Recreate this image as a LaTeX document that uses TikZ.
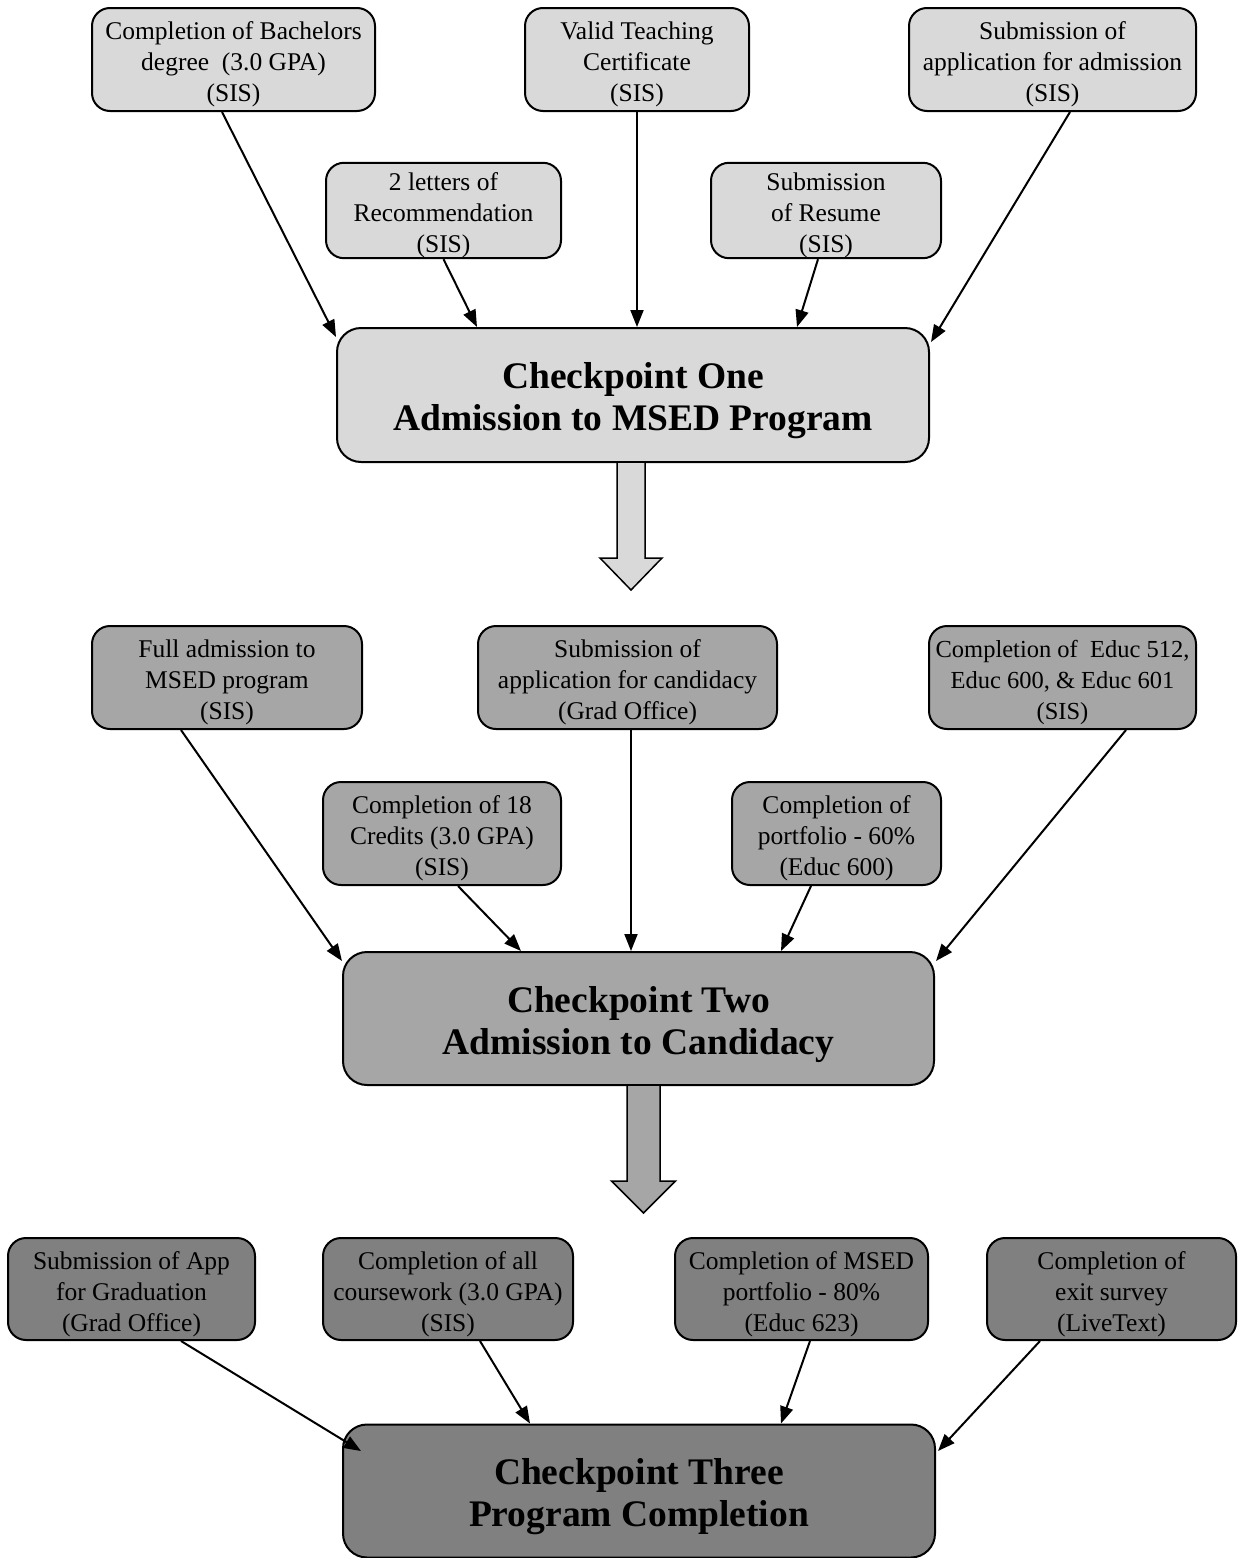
\documentclass[tikz,border=0pt]{standalone}
\usepackage{fontspec}
\setmainfont{Liberation Serif}
\usepackage{tikz}
\usetikzlibrary{positioning}
\usetikzlibrary{calc,arrows.meta}

\definecolor{ckOne}{HTML}{D9D9D9}
\definecolor{ckTwo}{HTML}{A6A6A6}
\definecolor{ckThree}{HTML}{808080}

\tikzset{
	req/.style={draw, line width=2pt, rounded corners=18pt, align=center,
		inner sep=0pt, minimum height=103pt,
		font=\fontsize{25.5}{31}\selectfont,
		execute at begin node={\rule{0pt}{90pt}}},
	checkpoint/.style={draw, line width=2pt, rounded corners=24pt, align=center,
		inner sep=0pt, minimum width=592pt, minimum height=134pt,
		font=\fontsize{37.5}{42}\selectfont\bfseries,
		execute at begin node={\rule{0pt}{80pt}}},
	feed/.style={line width=2pt, -{Triangle[length=17pt,width=13pt]}},
	bigarrow/.style={draw, line width=1.5pt},
}

\begin{document}
\begin{tikzpicture}[x=1pt,y=-1pt]
	
	\useasboundingbox (0,0) rectangle (1244,1558);
	
	% CHECKPOINT ONE: requirements (top row, then the two lower ones)
	\node[req, fill=ckOne, minimum width=283pt] (b1) at (233.5,59.5) {Completion of Bachelors\\degree~~(3.0 GPA)\\(SIS)};
	\node[req, fill=ckOne, minimum width=224pt] (valid) at (637,59.5) {Valid Teaching\\Certificate\\(SIS)};
	\node[req, fill=ckOne, minimum width=287pt] (admit) at (1052.5,59.5) {Submission of\\application for admission\\(SIS)};
	\node[req, fill=ckOne, minimum width=235pt, minimum height=95pt] (letters) at (443.5,210.5) {2 letters of\\Recommendation\\(SIS)};
	\node[req, fill=ckOne, minimum width=230pt, minimum height=95pt] (resume) at (826,210.5) {Submission\\of Resume\\(SIS)};
	
	\node[checkpoint, fill=ckOne] (c1) at (633,395) {Checkpoint One\\Admission to MSED Program};
	
	\draw[feed] ($(b1.south)+(-11.5,0)$) -- ($(c1.north west)+(0,10)$);
	\draw[feed] (letters.south) -- ($(c1.north)+(-156,0)$);
	\draw[feed] (valid.south) -- ($(c1.north)+(4,0)$);
	\draw[feed] ($(resume.south)+(-8,0)$) -- ($(c1.north)+(164,0)$);
	\draw[feed] ($(admit.south)+(17.5,0)$) -- ($(c1.north east)+(1,15)$);
	
	% block arrow down to checkpoint two
	\coordinate (A1) at ($(c1.south)+(-2,0)$);
	\draw[bigarrow, fill=ckOne] ($(A1)+(-14,0)$) -- ++(0,95) -- ++(-17,0)
		-- ($(A1)+(0,127)$) -- ($(A1)+(31,95)$) -- ++(-17,0) -- ($(A1)+(14,0)$);
	
	% CHECKPOINT TWO
	\node[req, fill=ckTwo, minimum width=270pt] (full) at (227,677.5) {Full admission to\\MSED program\\(SIS)};
	\node[req, fill=ckTwo, minimum width=299pt] (cand) at (627.5,677.5) {Submission of\\application for candidacy\\(Grad Office)};
	\node[req, fill=ckTwo, minimum width=267pt, font=\fontsize{24.5}{31}\selectfont] (educ) at (1062.5,677.5) {Completion of~~Educ 512,\\Educ 600, \& Educ 601\\(SIS)};
	\node[req, fill=ckTwo, minimum width=238pt] (credits) at (442,833.5) {Completion of 18\\Credits (3.0 GPA)\\(SIS)};
	\node[req, fill=ckTwo, minimum width=209pt] (port) at (836.5,833.5) {Completion of\\portfolio - 60\%\\(Educ 600)};
	
	\node[checkpoint, fill=ckTwo, minimum width=591pt, minimum height=133pt] (c2) at (638.5,1018.5) {Checkpoint Two\\Admission to Candidacy};
	
	\draw[feed] ($(full.south)+(-46,0)$) -- ($(c2.north west)+(0,10)$);
	\draw[feed] ($(credits.south)+(16,0)$) -- ($(c2.north)+(-117.5,0)$);
	\draw[feed] ($(cand.south)+(3.5,0)$) -- ($(c2.north)+(-7.5,0)$);
	\draw[feed] ($(port.south)+(-25.5,0)$) -- ($(c2.north)+(142.5,0)$);
	\draw[feed] ($(educ.south)+(63.5,0)$) -- ($(c2.north east)+(1,10)$);
	
	% block arrow down to checkpoint three
	\coordinate (A2) at ($(c2.south)+(5,0)$);
	\draw[bigarrow, fill=ckTwo] ($(A2)+(-16.5,0)$) -- ++(0,95) -- ++(-15.5,0)
		-- ($(A2)+(0,127)$) -- ($(A2)+(32,95)$) -- ++(-15.5,0) -- ($(A2)+(16.5,0)$);
	
	% CHECKPOINT THREE
	\node[req, fill=ckThree, minimum width=247pt, minimum height=102pt] (grad) at (131.5,1289) {Submission of App\\for Graduation\\(Grad Office)};
	\node[req, fill=ckThree, minimum width=250pt, minimum height=102pt] (work) at (448,1289) {Completion of all\\coursework (3.0 GPA)\\(SIS)};
	\node[req, fill=ckThree, minimum width=253pt, minimum height=102pt] (msed) at (801.5,1289) {Completion of MSED\\portfolio - 80\%\\(Educ 623)};
	\node[req, fill=ckThree, minimum width=249pt, minimum height=102pt] (exit) at (1111.5,1289) {Completion of\\exit survey\\(LiveText)};
	
	\node[checkpoint, fill=ckThree, minimum height=133pt] (c3) at (639,1491) {Checkpoint Three\\Program Completion};
	
	\draw[feed] ($(grad.south)+(49.5,0)$) -- ($(c3.north west)+(19,27.5)$);
	\draw[feed] ($(work.south)+(32,0)$) -- ($(c3.north)+(-109,0)$);
	\draw[feed] ($(msed.south)+(8.5,0)$) -- ($(c3.north)+(142,0)$);
	\draw[feed] ($(exit.south)+(-71.5,0)$) -- ($(c3.north east)+(2,27.5)$);
	
\end{tikzpicture}
\end{document}
